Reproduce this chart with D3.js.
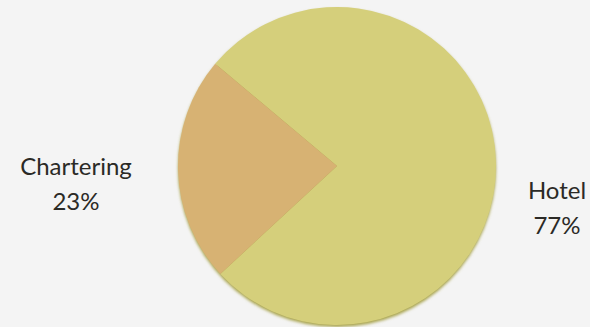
<!DOCTYPE html>
<html lang="en">
<head>
<meta charset="UTF-8">
<title>Revenue split</title>
<script src="https://d3js.org/d3.v7.min.js"></script>
<style>
    body { margin: 0; background: #f4f4f4; }
    svg { display: block; }
    .lbl { font-family: Lato, 'Open Sans', sans-serif; font-size: 24px; fill: #2b2a26; }
</style>
</head>
<body>
<div id="chart"></div>
<script>
    const categories = ["Hotel", "Chartering"];
    const shares = [77, 23];
    const colors = ["#d5cf7b", "#d7b273"];

    const width = 590, height = 327;
    const cx = 337, cy = 166, r = 159;

    const svg = d3.select("#chart").append("svg")
        .attr("width", width)
        .attr("height", height);

    const defs = svg.append("defs");
    const blur = defs.append("filter").attr("id", "shadow")
        .attr("x", "-10%").attr("y", "-10%").attr("width", "120%").attr("height", "120%");
    blur.append("feGaussianBlur").attr("stdDeviation", 1.5);

    const data = categories.map((c, i) => ({ name: c, value: shares[i], color: colors[i] }));

    // start Hotel at -50deg so the small slice faces left
    const start = -50 * Math.PI / 180;
    const pie = d3.pie().value(d => d.value).sort(null)
        .startAngle(start).endAngle(start + 2 * Math.PI);
    const arc = d3.arc().innerRadius(0).outerRadius(r);

    const g = svg.append("g").attr("transform", `translate(${cx},${cy})`);

    // soft dark rim under the bottom edge
    g.append("circle")
        .attr("cx", 0).attr("cy", 2).attr("r", r)
        .attr("fill", "#a9a44e")
        .attr("filter", "url(#shadow)");

    g.selectAll("path.slice")
        .data(pie(data))
        .enter().append("path")
        .attr("class", "slice")
        .attr("d", arc)
        .attr("fill", d => d.data.color);

    const labels = [
        { name: "Chartering", x: 76, y: 175 },
        { name: "Hotel", x: 557, y: 199 }
    ];
    labels.forEach(l => {
        const d = data.find(e => e.name === l.name);
        const t = svg.append("text").attr("class", "lbl").attr("text-anchor", "middle");
        t.append("tspan").attr("x", l.x).attr("y", l.y).text(d.name);
        t.append("tspan").attr("x", l.x).attr("y", l.y + 35).text(d.value + "%");
    });
</script>
</body>
</html>
